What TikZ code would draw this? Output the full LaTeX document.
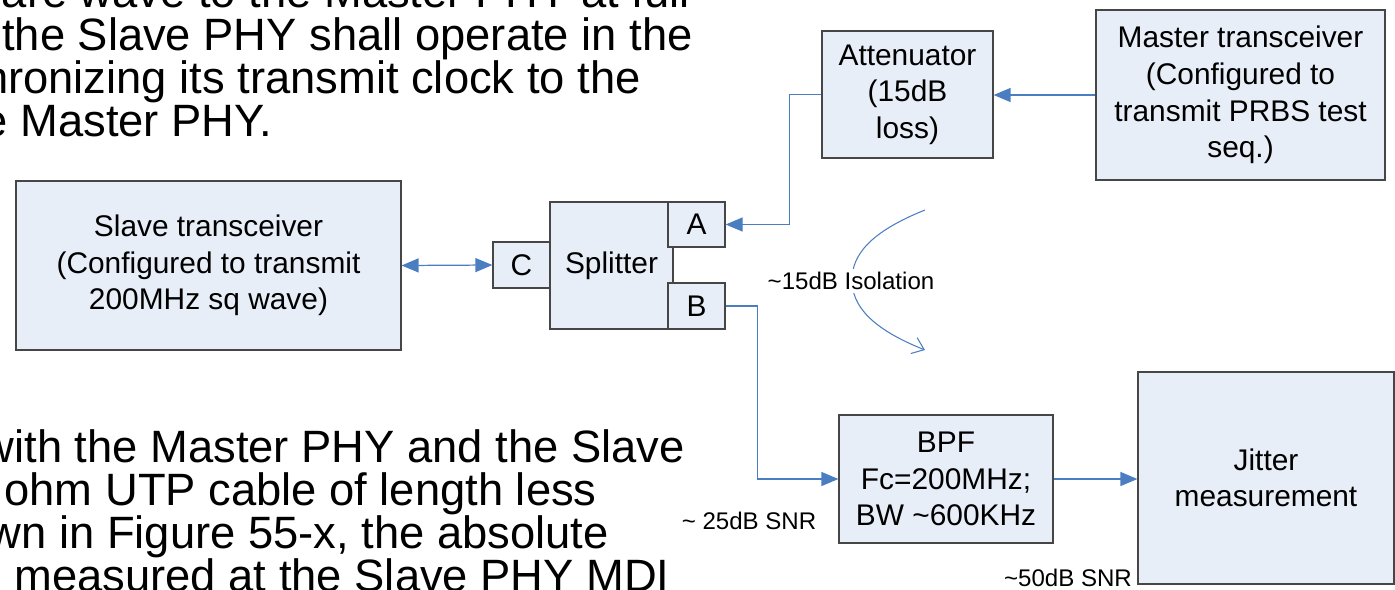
\documentclass[tikz,border=0pt]{standalone}
\usepackage{fontspec}
\setmainfont{Liberation Sans}
\usepackage{tikz}
\usetikzlibrary{
  arrows.meta,
  positioning
}
\definecolor{BoxFill}{RGB}{232,238,247}
\definecolor{BoxLine}{RGB}{70,70,70}
\definecolor{LinkBlue}{RGB}{74,126,193}

\begin{document}
\begin{tikzpicture}[
  x=0.02cm, y=-0.02cm,
  font=\fontsize{17}{20.8}\selectfont,
  >={Triangle[length=3.4mm,width=2.8mm]},
  box/.style={draw=BoxLine, fill=BoxFill, line width=0.7pt, align=center, inner sep=2pt},
  port/.style={box, minimum width=1.14cm, minimum height=0.92cm},
  link/.style={LinkBlue, line width=0.7pt},
  note/.style={font=\fontsize{13.7}{16}\selectfont, inner sep=1pt},
  slide/.style={font=\fontsize{25.8}{25}\selectfont, anchor=base east, inner sep=0pt},
]
  \clip (0,0) rectangle (1395,589);

  % slide text behind the figure
  \node[slide] (t1) at (690,7) {uare wave to the Master PHY at full};
  \node[slide] (t2) at (693,50) {the Slave PHY shall operate in the};
  \node[slide] (t3) at (641,93) {hronizing its transmit clock to the};
  \node[slide] (t4) at (272,136) {e Master PHY.};
  \node[slide] (t5) at (685,462) {with the Master PHY and the Slave};
  \node[slide] (t6) at (597,505) {ohm UTP cable of length less};
  \node[slide] (t7) at (609,548) {wn in Figure 55-x, the absolute};
  \node[slide] (t8) at (670,591) {measured at the Slave PHY MDI};

  % blocks
  \node[box, minimum width=7.7cm, minimum height=3.38cm] (slave) at (208.5,265.5)
    {Slave transceiver\\(Configured to transmit\\200MHz sq wave)};
  \node[port] (C) at (521.5,265) {C};
  \node[box, minimum width=2.46cm, minimum height=2.54cm] (split) at (611.5,265.5) {Splitter};
  \node[port, minimum height=0.9cm] (A) at (696.5,224.5) {A};
  \node[port] (B) at (696.5,306) {B};
  \node[box, minimum width=3.42cm, minimum height=2.54cm] (att) at (907.5,94.5)
    {Attenuator\\(15dB\\loss)};
  \node[box, minimum width=5.78cm, minimum height=3.4cm] (master) at (1240.5,95)
    {Master transceiver\\(Configured to\\transmit PRBS test\\seq.)};
  \node[box, minimum width=4.28cm, minimum height=2.56cm] (bpf) at (946,479)
    {BPF\\Fc=200MHz;\\BW \textasciitilde600KHz};
  \node[box, minimum width=5.12cm, minimum height=4.24cm] (jitter) at (1266,478)
    {Jitter\\measurement};

  % connections
  \draw[link, <->] (slave.east) -- (C.west);
  \draw[link, ->] (master.west) -- (master.west -| att.east);
  \draw[link, ->] (att.west) -- ++(-32,0) |- (A.east);
  \draw[link, ->] (B.east) -- ++(32,0) |- (bpf.west);
  \draw[link, ->] (bpf.east) -- (bpf.east -| jitter.west);

  % isolation arc
  \coordinate (isoTop) at (925,210);
  \coordinate (isoBot) at (925,350);
  \draw[link, line width=0.6pt, -{Straight Barb[length=2.2mm,width=3.4mm]}]
    (isoTop) .. controls (870,232) and (852,255) .. (852,280)
    .. controls (852,305) and (870,328) .. (isoBot);
  \node[note, fill=white, inner sep=2pt] (iso) at (851,281) {\textasciitilde15dB Isolation};

  % levels
  \node[note] (snr1) at (749,521) {\textasciitilde{} 25dB SNR};
  \node[note] (snr2) at (1068,578) {\textasciitilde50dB SNR};
\end{tikzpicture}
\end{document}
